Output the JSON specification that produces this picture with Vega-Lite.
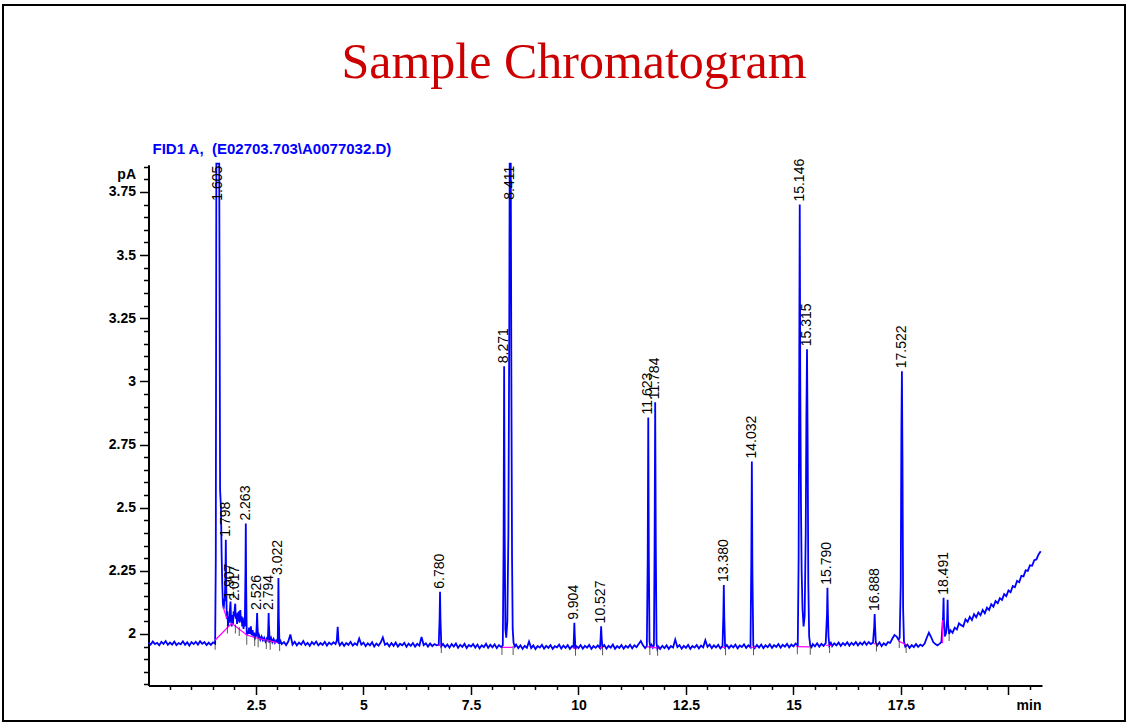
{
  "$schema": "https://vega.github.io/schema/vega-lite/v6.json",
  "width": 1122,
  "height": 716,
  "padding": {"left": 3, "top": 5, "right": 3, "bottom": 5},
  "autosize": {"type": "none"},
  "background": "white",
  "config": {"view": {"stroke": "black", "strokeWidth": 2, "fill": "white"}, "axis": {"grid": false}},
  "title": {"text": "Sample Chromatogram", "font": "Liberation Serif", "fontSize": 50, "fontWeight": "normal", "color": "#cc0000", "anchor": "middle", "frame": "group", "offset": -123, "baseline": "alphabetic", "dx": 10},
  "datasets": {
    "trace": [
      {"t":0,"v":1.967},{"t":0.05,"v":1.958},{"t":0.1,"v":1.970},{"t":0.15,"v":1.960},{"t":0.2,"v":1.965},{"t":0.25,"v":1.955},{"t":0.3,"v":1.969},{"t":0.35,"v":1.961},{"t":0.4,"v":1.972},{"t":0.45,"v":1.957},
      {"t":0.5,"v":1.966},{"t":0.55,"v":1.958},{"t":0.6,"v":1.970},{"t":0.65,"v":1.956},{"t":0.7,"v":1.964},{"t":0.75,"v":1.959},{"t":0.8,"v":1.971},{"t":0.85,"v":1.957},{"t":0.9,"v":1.967},{"t":0.95,"v":1.954},
      {"t":1.0,"v":1.968},{"t":1.05,"v":1.960},{"t":1.1,"v":1.969},{"t":1.15,"v":1.958},{"t":1.2,"v":1.971},{"t":1.25,"v":1.961},{"t":1.3,"v":1.968},{"t":1.35,"v":1.956},{"t":1.4,"v":1.966},{"t":1.45,"v":1.957},
      {"t":1.5,"v":1.967},{"t":1.55,"v":1.962},{"t":1.565,"v":2.30},{"t":1.578,"v":3.862},{"t":1.645,"v":3.862},{"t":1.665,"v":2.57},{"t":1.685,"v":2.50},{"t":1.70,"v":2.32},{"t":1.715,"v":2.20},{"t":1.73,"v":2.12},
      {"t":1.75,"v":2.10},{"t":1.765,"v":2.14},{"t":1.775,"v":2.13},{"t":1.79,"v":2.25},{"t":1.798,"v":2.373},{"t":1.806,"v":2.22},{"t":1.82,"v":2.06},{"t":1.835,"v":2.09},{"t":1.85,"v":2.03},{"t":1.865,"v":2.07},
      {"t":1.88,"v":2.045},{"t":1.895,"v":2.10},{"t":1.907,"v":2.128},{"t":1.92,"v":2.06},{"t":1.935,"v":2.03},{"t":1.95,"v":2.075},{"t":1.965,"v":2.04},{"t":1.98,"v":2.09},{"t":1.995,"v":2.07},{"t":2.008,"v":2.105},
      {"t":2.017,"v":2.12},{"t":2.03,"v":2.06},{"t":2.045,"v":2.08},{"t":2.06,"v":2.04},{"t":2.075,"v":2.085},{"t":2.09,"v":2.05},{"t":2.105,"v":2.09},{"t":2.12,"v":2.045},{"t":2.135,"v":2.095},{"t":2.15,"v":2.05},
      {"t":2.165,"v":2.07},{"t":2.18,"v":2.03},{"t":2.195,"v":2.065},{"t":2.21,"v":2.02},{"t":2.225,"v":2.05},{"t":2.24,"v":2.03},{"t":2.255,"v":2.25},{"t":2.263,"v":2.437},{"t":2.271,"v":2.20},{"t":2.285,"v":1.995},
      {"t":2.30,"v":2.01},{"t":2.32,"v":2.00},{"t":2.34,"v":2.025},{"t":2.36,"v":2.00},{"t":2.38,"v":2.03},{"t":2.40,"v":1.995},{"t":2.42,"v":2.015},{"t":2.44,"v":1.99},{"t":2.46,"v":2.005},{"t":2.48,"v":1.985},
      {"t":2.505,"v":1.995},{"t":2.518,"v":2.04},{"t":2.526,"v":2.083},{"t":2.535,"v":2.03},{"t":2.55,"v":1.985},{"t":2.57,"v":1.995},{"t":2.60,"v":1.978},{"t":2.63,"v":1.99},{"t":2.66,"v":1.975},{"t":2.69,"v":1.985},
      {"t":2.72,"v":1.97},{"t":2.75,"v":1.982},{"t":2.775,"v":1.975},{"t":2.787,"v":2.03},{"t":2.794,"v":2.083},{"t":2.802,"v":2.03},{"t":2.82,"v":1.975},{"t":2.85,"v":1.985},{"t":2.88,"v":1.968},{"t":2.91,"v":1.98},
      {"t":2.94,"v":1.965},{"t":2.97,"v":1.975},{"t":3.005,"v":1.968},{"t":3.014,"v":2.08},{"t":3.022,"v":2.222},{"t":3.03,"v":2.07},{"t":3.045,"v":1.962},{"t":3.07,"v":1.972},{"t":3.10,"v":1.96},{"t":3.15,"v":1.968},
      {"t":3.2,"v":1.956},{"t":3.25,"v":1.970},{"t":3.3,"v":1.998},{"t":3.35,"v":1.958},{"t":3.4,"v":1.969},{"t":3.45,"v":1.955},{"t":3.5,"v":1.966},{"t":3.55,"v":1.958},{"t":3.6,"v":1.972},{"t":3.65,"v":1.956},
      {"t":3.7,"v":1.965},{"t":3.75,"v":1.953},{"t":3.8,"v":1.968},{"t":3.85,"v":1.959},{"t":3.9,"v":1.970},{"t":3.95,"v":1.955},{"t":4.0,"v":1.964},{"t":4.05,"v":1.957},{"t":4.1,"v":1.969},{"t":4.15,"v":1.954},
      {"t":4.2,"v":1.966},{"t":4.25,"v":1.958},{"t":4.3,"v":1.967},{"t":4.35,"v":1.960},{"t":4.38,"v":1.975},{"t":4.4,"v":2.028},{"t":4.42,"v":1.968},{"t":4.45,"v":1.955},{"t":4.5,"v":1.966},{"t":4.55,"v":1.953},
      {"t":4.6,"v":1.964},{"t":4.65,"v":1.957},{"t":4.7,"v":1.969},{"t":4.75,"v":1.954},{"t":4.8,"v":1.963},{"t":4.85,"v":1.956},{"t":4.9,"v":1.982},{"t":4.95,"v":1.958},{"t":5.0,"v":1.966},{"t":5.05,"v":1.952},
      {"t":5.1,"v":1.963},{"t":5.15,"v":1.955},{"t":5.2,"v":1.967},{"t":5.25,"v":1.950},{"t":5.3,"v":1.962},{"t":5.35,"v":1.954},{"t":5.4,"v":1.966},{"t":5.45,"v":1.986},{"t":5.5,"v":1.957},{"t":5.55,"v":1.963},
      {"t":5.6,"v":1.951},{"t":5.65,"v":1.964},{"t":5.7,"v":1.953},{"t":5.75,"v":1.966},{"t":5.8,"v":1.950},{"t":5.85,"v":1.961},{"t":5.9,"v":1.955},{"t":5.95,"v":1.965},{"t":6.0,"v":1.949},{"t":6.05,"v":1.962},
      {"t":6.1,"v":1.953},{"t":6.15,"v":1.964},{"t":6.2,"v":1.950},{"t":6.25,"v":1.961},{"t":6.3,"v":1.954},{"t":6.35,"v":1.988},{"t":6.4,"v":1.956},{"t":6.45,"v":1.963},{"t":6.5,"v":1.950},{"t":6.55,"v":1.962},
      {"t":6.6,"v":1.952},{"t":6.65,"v":1.960},{"t":6.7,"v":1.955},{"t":6.75,"v":1.957},{"t":6.77,"v":2.06},{"t":6.78,"v":2.167},{"t":6.79,"v":2.06},{"t":6.81,"v":1.952},{"t":6.85,"v":1.960},{"t":6.9,"v":1.948},
      {"t":6.95,"v":1.958},{"t":7.0,"v":1.946},{"t":7.05,"v":1.960},{"t":7.1,"v":1.950},{"t":7.15,"v":1.962},{"t":7.2,"v":1.945},{"t":7.25,"v":1.957},{"t":7.3,"v":1.949},{"t":7.35,"v":1.961},{"t":7.4,"v":1.944},
      {"t":7.45,"v":1.956},{"t":7.5,"v":1.950},{"t":7.55,"v":1.960},{"t":7.6,"v":1.946},{"t":7.65,"v":1.958},{"t":7.7,"v":1.943},{"t":7.75,"v":1.955},{"t":7.8,"v":1.948},{"t":7.85,"v":1.961},{"t":7.9,"v":1.945},
      {"t":7.95,"v":1.957},{"t":8.0,"v":1.947},{"t":8.05,"v":1.959},{"t":8.1,"v":1.944},{"t":8.15,"v":1.956},{"t":8.2,"v":1.948},{"t":8.24,"v":1.955},{"t":8.258,"v":2.35},{"t":8.271,"v":3.06},{"t":8.284,"v":2.40},
      {"t":8.30,"v":2.02},{"t":8.32,"v":1.985},{"t":8.345,"v":2.05},{"t":8.37,"v":2.40},{"t":8.39,"v":3.20},{"t":8.40,"v":3.862},{"t":8.425,"v":3.862},{"t":8.44,"v":2.95},{"t":8.455,"v":2.30},{"t":8.47,"v":2.02},
      {"t":8.49,"v":1.965},{"t":8.52,"v":1.950},{"t":8.55,"v":1.958},{"t":8.6,"v":1.944},{"t":8.65,"v":1.955},{"t":8.7,"v":1.941},{"t":8.75,"v":1.953},{"t":8.8,"v":1.945},{"t":8.85,"v":1.970},{"t":8.9,"v":1.944},
      {"t":8.95,"v":1.955},{"t":9.0,"v":1.940},{"t":9.05,"v":1.952},{"t":9.1,"v":1.946},{"t":9.15,"v":1.957},{"t":9.2,"v":1.942},{"t":9.25,"v":1.953},{"t":9.3,"v":1.945},{"t":9.35,"v":1.956},{"t":9.4,"v":1.941},
      {"t":9.45,"v":1.952},{"t":9.5,"v":1.947},{"t":9.55,"v":1.958},{"t":9.6,"v":1.942},{"t":9.65,"v":1.954},{"t":9.7,"v":1.945},{"t":9.75,"v":1.956},{"t":9.8,"v":1.941},{"t":9.85,"v":1.952},{"t":9.885,"v":1.948},
      {"t":9.896,"v":2.0},{"t":9.904,"v":2.044},{"t":9.912,"v":2.0},{"t":9.93,"v":1.940},{"t":9.95,"v":1.952},{"t":10.0,"v":1.944},{"t":10.05,"v":1.956},{"t":10.1,"v":1.942},{"t":10.15,"v":1.953},{"t":10.2,"v":1.946},
      {"t":10.25,"v":1.957},{"t":10.3,"v":1.941},{"t":10.35,"v":1.952},{"t":10.4,"v":1.945},{"t":10.45,"v":1.955},{"t":10.5,"v":1.944},{"t":10.517,"v":1.99},{"t":10.527,"v":2.030},{"t":10.537,"v":1.99},{"t":10.555,"v":1.948},
      {"t":10.6,"v":1.956},{"t":10.65,"v":1.942},{"t":10.7,"v":1.953},{"t":10.75,"v":1.946},{"t":10.8,"v":1.958},{"t":10.85,"v":1.941},{"t":10.9,"v":1.952},{"t":10.95,"v":1.945},{"t":11.0,"v":1.956},{"t":11.05,"v":1.942},
      {"t":11.1,"v":1.953},{"t":11.15,"v":1.946},{"t":11.2,"v":1.957},{"t":11.25,"v":1.943},{"t":11.3,"v":1.955},{"t":11.35,"v":1.948},{"t":11.4,"v":1.960},{"t":11.45,"v":1.972},{"t":11.5,"v":1.955},{"t":11.55,"v":1.944},
      {"t":11.59,"v":1.952},{"t":11.61,"v":2.30},{"t":11.623,"v":2.857},{"t":11.636,"v":2.30},{"t":11.652,"v":1.97},{"t":11.67,"v":1.950},{"t":11.7,"v":1.958},{"t":11.73,"v":1.946},{"t":11.755,"v":1.955},{"t":11.77,"v":2.35},
      {"t":11.784,"v":2.917},{"t":11.798,"v":2.35},{"t":11.815,"v":1.965},{"t":11.835,"v":1.942},{"t":11.86,"v":1.950},{"t":11.9,"v":1.941},{"t":11.95,"v":1.953},{"t":12.0,"v":1.944},{"t":12.05,"v":1.955},{"t":12.1,"v":1.941},
      {"t":12.15,"v":1.952},{"t":12.2,"v":1.946},{"t":12.25,"v":1.978},{"t":12.3,"v":1.948},{"t":12.35,"v":1.956},{"t":12.4,"v":1.942},{"t":12.45,"v":1.953},{"t":12.5,"v":1.945},{"t":12.55,"v":1.957},{"t":12.6,"v":1.941},
      {"t":12.65,"v":1.952},{"t":12.7,"v":1.946},{"t":12.75,"v":1.956},{"t":12.8,"v":1.943},{"t":12.85,"v":1.954},{"t":12.9,"v":1.947},{"t":12.95,"v":1.975},{"t":13.0,"v":1.949},{"t":13.05,"v":1.958},{"t":13.1,"v":1.944},
      {"t":13.15,"v":1.955},{"t":13.2,"v":1.947},{"t":13.25,"v":1.957},{"t":13.3,"v":1.943},{"t":13.35,"v":1.953},{"t":13.37,"v":2.08},{"t":13.38,"v":2.194},{"t":13.39,"v":2.07},{"t":13.41,"v":1.948},{"t":13.45,"v":1.956},
      {"t":13.5,"v":1.944},{"t":13.55,"v":1.955},{"t":13.6,"v":1.947},{"t":13.65,"v":1.958},{"t":13.7,"v":1.943},{"t":13.75,"v":1.954},{"t":13.8,"v":1.948},{"t":13.85,"v":1.959},{"t":13.9,"v":1.945},{"t":13.95,"v":1.955},
      {"t":14.0,"v":1.947},{"t":14.02,"v":2.30},{"t":14.032,"v":2.683},{"t":14.045,"v":2.25},{"t":14.065,"v":1.955},{"t":14.1,"v":1.944},{"t":14.15,"v":1.956},{"t":14.2,"v":1.946},{"t":14.25,"v":1.958},{"t":14.3,"v":1.944},
      {"t":14.35,"v":1.955},{"t":14.4,"v":1.948},{"t":14.45,"v":1.959},{"t":14.5,"v":1.945},{"t":14.55,"v":1.956},{"t":14.6,"v":1.949},{"t":14.65,"v":1.960},{"t":14.7,"v":1.946},{"t":14.75,"v":1.957},{"t":14.8,"v":1.950},
      {"t":14.85,"v":1.961},{"t":14.9,"v":1.947},{"t":14.95,"v":1.958},{"t":15.0,"v":1.951},{"t":15.05,"v":1.962},{"t":15.1,"v":1.955},{"t":15.12,"v":2.30},{"t":15.135,"v":3.10},{"t":15.146,"v":3.70},{"t":15.158,"v":3.00},
      {"t":15.175,"v":2.50},{"t":15.19,"v":2.25},{"t":15.21,"v":2.10},{"t":15.235,"v":2.03},{"t":15.26,"v":2.07},{"t":15.285,"v":2.40},{"t":15.30,"v":2.85},{"t":15.315,"v":3.127},{"t":15.33,"v":2.75},{"t":15.345,"v":2.20},
      {"t":15.365,"v":1.99},{"t":15.39,"v":1.955},{"t":15.42,"v":1.948},{"t":15.45,"v":1.960},{"t":15.5,"v":1.951},{"t":15.55,"v":1.963},{"t":15.6,"v":1.950},{"t":15.65,"v":1.961},{"t":15.7,"v":1.953},{"t":15.75,"v":1.964},
      {"t":15.78,"v":2.08},{"t":15.79,"v":2.183},{"t":15.8,"v":2.09},{"t":15.815,"v":1.99},{"t":15.835,"v":1.955},{"t":15.87,"v":1.965},{"t":15.9,"v":1.952},{"t":15.95,"v":1.963},{"t":16.0,"v":1.955},{"t":16.05,"v":1.966},
      {"t":16.1,"v":1.953},{"t":16.15,"v":1.964},{"t":16.2,"v":1.956},{"t":16.25,"v":1.967},{"t":16.3,"v":1.954},{"t":16.35,"v":1.965},{"t":16.4,"v":1.957},{"t":16.45,"v":1.968},{"t":16.5,"v":1.955},{"t":16.55,"v":1.966},
      {"t":16.6,"v":1.958},{"t":16.65,"v":1.969},{"t":16.7,"v":1.957},{"t":16.75,"v":1.968},{"t":16.8,"v":1.960},{"t":16.85,"v":1.966},{"t":16.878,"v":2.03},{"t":16.888,"v":2.079},{"t":16.898,"v":2.03},{"t":16.915,"v":1.965},
      {"t":16.95,"v":1.955},{"t":17.0,"v":1.967},{"t":17.05,"v":1.952},{"t":17.1,"v":1.963},{"t":17.15,"v":1.956},{"t":17.2,"v":1.968},{"t":17.25,"v":1.965},{"t":17.3,"v":1.982},{"t":17.35,"v":1.996},{"t":17.4,"v":1.990},
      {"t":17.44,"v":1.978},{"t":17.47,"v":1.985},{"t":17.495,"v":2.20},{"t":17.51,"v":2.80},{"t":17.522,"v":3.04},{"t":17.535,"v":2.70},{"t":17.55,"v":2.10},{"t":17.57,"v":1.970},{"t":17.6,"v":1.950},{"t":17.65,"v":1.958},
      {"t":17.7,"v":1.945},{"t":17.75,"v":1.956},{"t":17.8,"v":1.948},{"t":17.85,"v":1.960},{"t":17.9,"v":1.949},{"t":17.95,"v":1.958},{"t":18.0,"v":1.952},{"t":18.05,"v":1.962},{"t":18.1,"v":1.985},{"t":18.15,"v":2.005},
      {"t":18.2,"v":1.988},{"t":18.25,"v":1.968},{"t":18.3,"v":1.960},{"t":18.35,"v":1.955},{"t":18.4,"v":1.962},{"t":18.44,"v":1.968},{"t":18.48,"v":2.07},{"t":18.491,"v":2.143},{"t":18.5,"v":2.05},{"t":18.52,"v":1.99},
      {"t":18.55,"v":2.005},{"t":18.575,"v":2.06},{"t":18.585,"v":2.135},{"t":18.595,"v":2.04},{"t":18.62,"v":2.00},{"t":18.65,"v":2.015},{"t":18.7,"v":2.005},{"t":18.75,"v":2.025},{"t":18.8,"v":2.018},{"t":18.85,"v":2.042},
      {"t":18.9,"v":2.035},{"t":18.95,"v":2.030},{"t":19.0,"v":2.058},{"t":19.05,"v":2.048},{"t":19.1,"v":2.068},{"t":19.15,"v":2.055},{"t":19.2,"v":2.078},{"t":19.25,"v":2.066},{"t":19.3,"v":2.085},{"t":19.35,"v":2.074},
      {"t":19.4,"v":2.095},{"t":19.45,"v":2.082},{"t":19.5,"v":2.104},{"t":19.55,"v":2.095},{"t":19.6,"v":2.118},{"t":19.65,"v":2.108},{"t":19.7,"v":2.130},{"t":19.75,"v":2.122},{"t":19.8,"v":2.142},{"t":19.85,"v":2.135},
      {"t":19.9,"v":2.158},{"t":19.95,"v":2.150},{"t":20.0,"v":2.172},{"t":20.05,"v":2.165},{"t":20.1,"v":2.190},{"t":20.15,"v":2.185},{"t":20.2,"v":2.210},{"t":20.25,"v":2.205},{"t":20.3,"v":2.230},{"t":20.35,"v":2.228},
      {"t":20.4,"v":2.252},{"t":20.45,"v":2.250},{"t":20.5,"v":2.272},{"t":20.55,"v":2.270},{"t":20.6,"v":2.292},{"t":20.65,"v":2.295},{"t":20.7,"v":2.315},{"t":20.75,"v":2.328}
    ],
    "bl": [
      {"seg":1,"t":1.547,"v":1.975},{"seg":1,"t":1.935,"v":2.042},{"seg":1,"t":2.284,"v":1.996},{"seg":1,"t":2.516,"v":1.984},{"seg":1,"t":2.981,"v":1.966},
      {"seg":2,"t":1.733,"v":2.108},{"seg":2,"t":1.819,"v":2.063},
      {"seg":3,"t":6.74,"v":1.956},{"seg":3,"t":6.82,"v":1.955},
      {"seg":4,"t":8.21,"v":1.947},{"seg":4,"t":8.47,"v":1.947},
      {"seg":5,"t":9.87,"v":1.944},{"seg":5,"t":9.96,"v":1.944},
      {"seg":6,"t":10.50,"v":1.946},{"seg":6,"t":10.57,"v":1.946},
      {"seg":7,"t":11.59,"v":1.950},{"seg":7,"t":11.86,"v":1.944},
      {"seg":8,"t":13.34,"v":1.947},{"seg":8,"t":13.43,"v":1.947},
      {"seg":9,"t":14.0,"v":1.947},{"seg":9,"t":14.12,"v":1.947},
      {"seg":10,"t":15.07,"v":1.950},{"seg":10,"t":15.38,"v":1.949},
      {"seg":11,"t":15.76,"v":1.955},{"seg":11,"t":15.89,"v":1.955},
      {"seg":12,"t":16.86,"v":1.962},{"seg":12,"t":16.96,"v":1.961},
      {"seg":13,"t":17.44,"v":1.972},{"seg":13,"t":17.64,"v":1.956},
      {"seg":14,"t":18.465,"v":1.963},{"seg":14,"t":18.468,"v":2.055}
    ],
    "marks": [
      {"t":1.55,"v":1.955},{"t":1.835,"v":2.02},{"t":2.02,"v":2.02},{"t":2.11,"v":2.01},{"t":2.285,"v":1.975},{"t":2.47,"v":1.97},{"t":2.55,"v":1.965},{"t":2.74,"v":1.958},{"t":2.83,"v":1.955},{"t":3.05,"v":1.95},
      {"t":6.81,"v":1.942},{"t":8.22,"v":1.935},{"t":8.48,"v":1.935},{"t":9.93,"v":1.932},{"t":10.56,"v":1.934},{"t":11.66,"v":1.935},{"t":11.84,"v":1.932},{"t":13.42,"v":1.934},
      {"t":14.07,"v":1.934},{"t":15.09,"v":1.938},{"t":15.39,"v":1.936},{"t":15.84,"v":1.942},{"t":16.93,"v":1.948},{"t":17.46,"v":1.962},{"t":17.62,"v":1.942},{"t":18.62,"v":1.99}
    ],
    "peaks": [
      {"t":1.605,"v":3.858,"label":"1.605","off":true},
      {"t":1.798,"v":2.373,"label":"1.798","off":false},
      {"t":1.907,"v":2.128,"label":"1.907","off":false},
      {"t":2.017,"v":2.12,"label":"2.017","off":false},
      {"t":2.263,"v":2.437,"label":"2.263","off":false},
      {"t":2.526,"v":2.083,"label":"2.526","off":false},
      {"t":2.794,"v":2.083,"label":"2.794","off":false},
      {"t":3.022,"v":2.222,"label":"3.022","off":false},
      {"t":6.78,"v":2.167,"label":"6.780","off":false},
      {"t":8.271,"v":3.06,"label":"8.271","off":false},
      {"t":8.411,"v":3.858,"label":"8.411","off":true},
      {"t":9.904,"v":2.044,"label":"9.904","off":false},
      {"t":10.527,"v":2.03,"label":"10.527","off":false},
      {"t":11.623,"v":2.857,"label":"11.623","off":false},
      {"t":11.784,"v":2.917,"label":"11.784","off":false},
      {"t":13.38,"v":2.194,"label":"13.380","off":false},
      {"t":14.032,"v":2.683,"label":"14.032","off":false},
      {"t":15.146,"v":3.70,"label":"15.146","off":false},
      {"t":15.315,"v":3.127,"label":"15.315","off":false},
      {"t":15.79,"v":2.183,"label":"15.790","off":false},
      {"t":16.888,"v":2.079,"label":"16.888","off":false},
      {"t":17.522,"v":3.04,"label":"17.522","off":false},
      {"t":18.491,"v":2.143,"label":"18.491","off":false}
    ]
  },
  "layer": [
    {
      "data": {"name": "trace"},
      "mark": {"type": "line", "color": "#0000ff", "strokeWidth": 1.8, "clip": true},
      "encoding": {
        "x": {"field": "t", "type": "quantitative",
          "scale": {"domain": [0, 20.78], "range": [145.5, 1039], "nice": false, "zero": false},
          "axis": {"orient": "bottom", "offset": -35.5,
            "values": [0.5,1,1.5,2,2.5,3,3.5,4,4.5,5,5.5,6,6.5,7,7.5,8,8.5,9,9.5,10,10.5,11,11.5,12,12.5,13,13.5,14,14.5,15,15.5,16,16.5,17,17.5,18,18.5,19,19.5,20,20.5],
            "tickSize": {"condition": {"test": "datum.value % 2.5 === 0", "value": 9}, "value": 4},
            "tickWidth": 1.5, "tickColor": "black", "domainColor": "black", "domainWidth": 2,
            "labelExpr": "datum.value % 2.5 === 0 && datum.value < 20 ? format(datum.value, '~g') : ''",
            "labelFont": "Liberation Sans", "labelFontSize": 14, "labelFontWeight": "bold", "labelColor": "black", "labelPadding": 4,
            "labelOverlap": false, "labelFlush": false, "labelBound": false,
            "title": "min", "titleX": 1038, "titleY": 24, "titleAlign": "right", "titleBaseline": "alphabetic", "titleAnchor": null,
            "titleFont": "Liberation Sans", "titleFontSize": 14, "titleFontWeight": "bold", "titleColor": "black"}},
        "y": {"field": "v", "type": "quantitative",
          "scale": {"domain": [1.796, 3.858], "range": [680.5, 159.7], "nice": false, "zero": false},
          "axis": {"orient": "left", "offset": -145.5,
            "values": [1.8,1.85,1.9,1.95,2,2.05,2.1,2.15,2.2,2.25,2.3,2.35,2.4,2.45,2.5,2.55,2.6,2.65,2.7,2.75,2.8,2.85,2.9,2.95,3,3.05,3.1,3.15,3.2,3.25,3.3,3.35,3.4,3.45,3.5,3.55,3.6,3.65,3.7,3.75,3.8,3.85],
            "tickSize": {"condition": {"test": "(datum.value * 100) % 25 === 0", "value": 9}, "value": 5},
            "tickWidth": 1.5, "tickColor": "black", "domainColor": "black", "domainWidth": 2,
            "labelExpr": "(datum.value * 100) % 25 === 0 && datum.value > 1.9 ? format(datum.value, '~g') : ''",
            "labelFont": "Liberation Sans", "labelFontSize": 14, "labelFontWeight": "bold", "labelColor": "black", "labelPadding": 4,
            "labelOverlap": false, "labelBound": false, "labelFlush": false,
            "title": "pA", "titleAngle": 0, "titleX": -13, "titleY": 173, "titleAlign": "right", "titleBaseline": "alphabetic", "titleAnchor": null,
            "titleFont": "Liberation Sans", "titleFontSize": 14, "titleFontWeight": "bold", "titleColor": "black"}}
      }
    },
    {
      "data": {"name": "bl"},
      "mark": {"type": "line", "color": "#ff00ff", "strokeWidth": 1.2, "clip": true},
      "encoding": {
        "x": {"field": "t", "type": "quantitative", "scale": {"domain": [0, 20.78], "range": [145.5, 1039], "nice": false, "zero": false}, "axis": null},
        "y": {"field": "v", "type": "quantitative", "scale": {"domain": [1.796, 3.858], "range": [680.5, 159.7], "nice": false, "zero": false}, "axis": null},
        "detail": {"field": "seg", "type": "nominal"}
      }
    },
    {
      "data": {"name": "marks"},
      "mark": {"type": "tick", "orient": "vertical", "color": "#111111", "size": 9, "thickness": 1},
      "encoding": {
        "x": {"field": "t", "type": "quantitative", "scale": {"domain": [0, 20.78], "range": [145.5, 1039], "nice": false, "zero": false}, "axis": null},
        "y": {"field": "v", "type": "quantitative", "scale": {"domain": [1.796, 3.858], "range": [680.5, 159.7], "nice": false, "zero": false}, "axis": null}
      }
    },
    {
      "data": {"name": "peaks"},
      "transform": [{"filter": "!datum.off"}],
      "mark": {"type": "text", "angle": -90, "align": "left", "baseline": "middle", "dx": 3, "font": "Liberation Sans", "fontSize": 14, "color": "black"},
      "encoding": {
        "x": {"field": "t", "type": "quantitative", "scale": {"domain": [0, 20.78], "range": [145.5, 1039], "nice": false, "zero": false}, "axis": null},
        "y": {"field": "v", "type": "quantitative", "scale": {"domain": [1.796, 3.858], "range": [680.5, 159.7], "nice": false, "zero": false}, "axis": null},
        "text": {"field": "label"}
      }
    },
    {
      "data": {"name": "peaks"},
      "transform": [{"filter": "datum.off"}],
      "mark": {"type": "text", "angle": -90, "align": "right", "baseline": "middle", "dx": -1, "font": "Liberation Sans", "fontSize": 14, "color": "black"},
      "encoding": {
        "x": {"field": "t", "type": "quantitative", "scale": {"domain": [0, 20.78], "range": [145.5, 1039], "nice": false, "zero": false},
          "axis": {"orient": "top", "offset": 0, "domain": false, "ticks": false, "labels": false,
            "title": "FID1 A,\u00a0 (E02703.703\\A0077032.D)", "titleX": 149, "titleY": 148, "titleAlign": "left", "titleBaseline": "alphabetic", "titleAnchor": null,
            "titleFont": "Liberation Sans", "titleFontSize": 15, "titleFontWeight": "bold", "titleColor": "#0000ff"}},
        "y": {"field": "v", "type": "quantitative", "scale": {"domain": [1.796, 3.858], "range": [680.5, 159.7], "nice": false, "zero": false}, "axis": null},
        "text": {"field": "label"}
      }
    }
  ],
  "resolve": {"axis": {"x": "independent", "y": "independent"}}
}
